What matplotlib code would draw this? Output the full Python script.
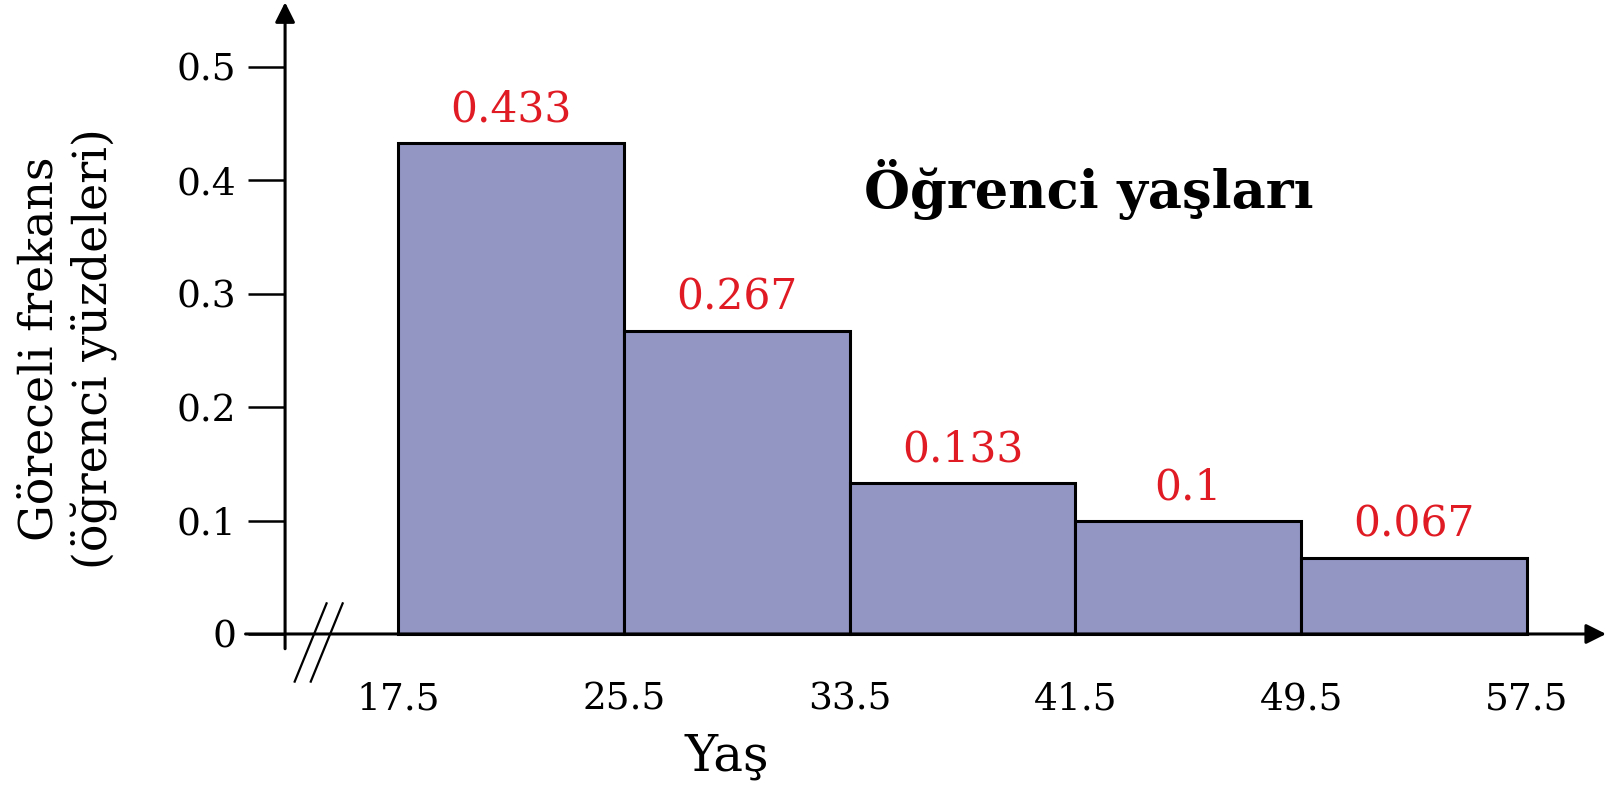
"""
Öğrenci yaşları histogram
"""

import numpy as np
from matplotlib import pyplot as plt

plt.rcParams['font.family'] = ['DejaVu Serif']

# Class edges and relative frequencies
edges = [17.5, 25.5, 33.5, 41.5, 49.5, 57.5]
relFreq = [0.433, 0.267, 0.133, 0.1, 0.067]
freqLabels = ["0.433", "0.267", "0.133", "0.1", "0.067"]
yTicks = [0, 0.1, 0.2, 0.3, 0.4, 0.5]
yTickLabels = ["0", "0.1", "0.2", "0.3", "0.4", "0.5"]

barColor = "#9395c3"
labelRed = "#e01b24"

fig = plt.figure(figsize=(16.08, 7.88), dpi=100)
ax = fig.add_axes([0, 0, 1, 1])
ax.set_xlim(3.40, 60.37)
ax.set_ylim(-0.1358, 0.559)

xAxisAt = 13.5

widths = np.diff(edges)
bars = ax.bar(edges[:-1], relFreq, width=widths, align="edge",
              color=barColor, edgecolor="black", linewidth=2.2, zorder=2)

for rect, lab in zip(bars, freqLabels):
    ax.annotate(lab, (rect.get_x() + rect.get_width() / 2, rect.get_height()),
                xytext=(0, 9), textcoords="offset points",
                ha="center", va="bottom", color=labelRed, fontsize=30.5)

# Axis placement
for side in ["top", "right"]:
    ax.spines[side].set_visible(False)
ax.spines["left"].set_position(("data", xAxisAt))
ax.spines["bottom"].set_position(("data", 0))
ax.spines["left"].set_color("none")
ax.spines["bottom"].set_color("none")

ax.set_yticks(yTicks)
ax.set_yticklabels(yTickLabels)
ax.set_xticks(edges)
ax.set_xticklabels([f"{e}" for e in edges])
ax.tick_params(axis="y", direction="out", length=27, width=1.8, labelsize=27, pad=8)
ax.tick_params(axis="x", length=0, labelsize=27, pad=34)

# Axis lines with arrowheads
ax.annotate("", xy=(xAxisAt, 0.557), xytext=(xAxisAt, -0.013),
            arrowprops=dict(arrowstyle="-|>", lw=2.2, color="black", mutation_scale=30,
                            shrinkA=0, shrinkB=0), annotation_clip=False)
ax.annotate("", xy=(60.3, 0), xytext=(12.1, 0),
            arrowprops=dict(arrowstyle="-|>", lw=2.2, color="black", mutation_scale=30,
                            shrinkA=0, shrinkB=0), annotation_clip=False)

# Axis break marks
for dx in [0.0, 0.57]:
    ax.plot([14.97 + dx, 13.84 + dx], [0.027, -0.042], color="black", lw=1.6,
            clip_on=False, zorder=3)

ax.text(0.042, 0.557, "Göreceli frekans\n(öğrenci yüzdeleri)", transform=ax.transAxes,
        rotation=90, ha="center", va="center", fontsize=33, linespacing=1.25)
ax.text(0.452, 0.04, "Yaş", transform=ax.transAxes, ha="center", va="center",
        fontsize=36)
ax.text(0.677, 0.76, "Öğrenci yaşları", transform=ax.transAxes, ha="center",
        va="center", fontsize=38, fontweight="bold")

fig.savefig("out.png", dpi=100)
